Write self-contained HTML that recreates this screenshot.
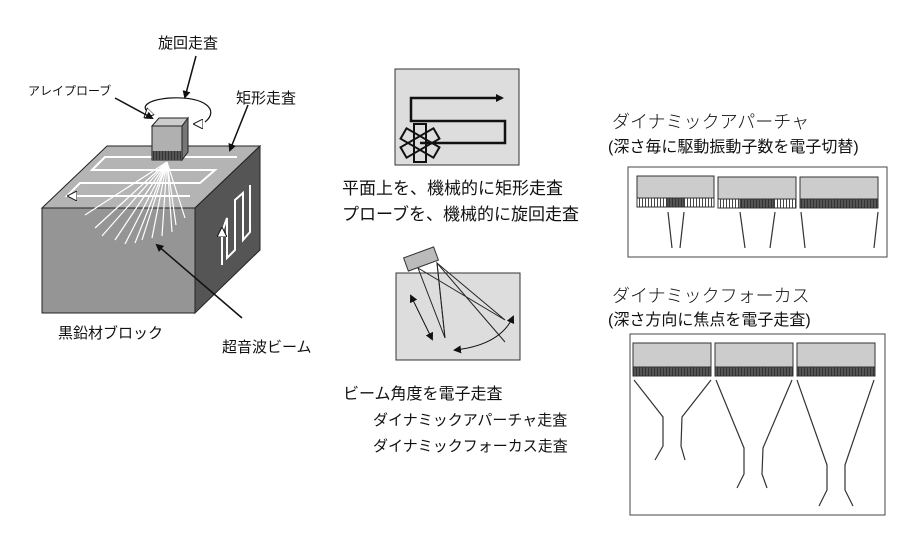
<!DOCTYPE html>
<html><head><meta charset="utf-8"><style>
html,body{margin:0;padding:0;background:#fff;}
svg{display:block;}
text{font-family:"Liberation Sans","Noto Sans CJK JP",sans-serif;fill:#111;}
</style></head><body>
<svg width="912" height="540" viewBox="0 0 912 540" xmlns="http://www.w3.org/2000/svg">
<defs>
<marker id="ah" markerWidth="8" markerHeight="8" refX="6" refY="4" orient="auto" markerUnits="userSpaceOnUse"><path d="M0,0 L8,4 L0,8 Z" fill="#111"/></marker>
<marker id="ahw" markerWidth="10" markerHeight="10" refX="7" refY="5" orient="auto" markerUnits="userSpaceOnUse"><path d="M0,0 L10,5 L0,10 Z" fill="#fff" stroke="#111" stroke-width="1"/></marker>
<marker id="ahs" markerWidth="8" markerHeight="8" refX="6" refY="4" orient="auto-start-reverse" markerUnits="userSpaceOnUse"><path d="M0,0 L8,4 L0,8 Z" fill="#111"/></marker>
<pattern id="dk" width="3" height="3" patternUnits="userSpaceOnUse"><rect width="3" height="3" fill="#555"/><rect width="1" height="3" fill="#333"/></pattern>
<pattern id="wh" width="3" height="3" patternUnits="userSpaceOnUse"><rect width="3" height="3" fill="#fff"/><rect width="1" height="3" fill="#444"/></pattern>
</defs>

<polygon points="42,208 107,146 260,146 195,208" fill="#b4b4b4" stroke="#222"/>
<polygon points="42,208 195,208 195,313 42,313" fill="#959595" stroke="#222"/>
<polygon points="195,208 260,146 260,250 195,313" fill="#555" stroke="#222"/>
<polyline points="237,157 105,157 92,170 215,170 200,183 80,183 67,196 190,196" fill="none" stroke="#fff" stroke-width="2"/>
<path d="M82,196 L70,196" stroke="#fff" stroke-width="2" marker-end="url(#ahw)"/>
<polyline points="222,265 222,232 227,218 227,258 235,250 235,200 243,193 243,240 250,232 250,185" fill="none" stroke="#fff" stroke-width="2"/>
<path d="M222,245 L222,230" stroke="#fff" stroke-width="2" marker-end="url(#ahw)"/>
<g stroke="#fff" stroke-width="1.2">
<line x1="167" y1="162" x2="85" y2="215"/><line x1="167" y1="162" x2="95" y2="228"/>
<line x1="167" y1="162" x2="102" y2="236"/><line x1="167" y1="162" x2="115" y2="240"/>
<line x1="167" y1="162" x2="125" y2="244"/><line x1="167" y1="162" x2="135" y2="243"/>
<line x1="167" y1="162" x2="142" y2="240"/><line x1="167" y1="162" x2="152" y2="238"/>
<line x1="167" y1="162" x2="162" y2="236"/><line x1="167" y1="162" x2="172" y2="232"/>
<line x1="167" y1="162" x2="176" y2="225"/><line x1="167" y1="162" x2="185" y2="218"/>
</g>
<polygon points="152,126 159,118 188,118 182,126" fill="#ccc" stroke="#222"/>
<polygon points="182,126 188,118 188,152 182,160" fill="#777" stroke="#222"/>
<rect x="152" y="126" width="30" height="34" fill="#b0b0b0" stroke="#222"/>
<rect x="152" y="151" width="30" height="9" fill="url(#dk)"/>
<path d="M150,113 C140,108 145,100 170,98 C205,96 220,110 205,122" fill="none" stroke="#111" stroke-width="1.2"/>
<path d="M200,124 L196,124" stroke="#111" marker-end="url(#ahw)"/>
<path d="M150,112 L146,116" stroke="#111" marker-end="url(#ahw)"/>
<line x1="196" y1="56" x2="185" y2="97" stroke="#111" stroke-width="1.5" marker-end="url(#ah)"/>
<line x1="115" y1="98" x2="152" y2="118" stroke="#111" stroke-width="1.5" marker-end="url(#ah)"/>
<line x1="248" y1="105" x2="230" y2="150" stroke="#111" stroke-width="1.5" marker-end="url(#ah)"/>
<line x1="242" y1="318" x2="157" y2="245" stroke="#111" stroke-width="1.5" marker-end="url(#ah)"/>
<text x="158" y="48" font-size="15">旋回走査</text>
<text x="28" y="95" font-size="12">アレイプローブ</text>
<text x="236" y="103" font-size="15">矩形走査</text>
<text x="58" y="338" font-size="15">黒鉛材ブロック</text>
<text x="222" y="352" font-size="15">超音波ビーム</text>

<rect x="395" y="69" width="124" height="96" fill="#ddd" stroke="#333"/>
<polyline points="420,143 505,143 505,121 411,121 411,98 502,98" fill="none" stroke="#111" stroke-width="2.5" marker-end="url(#ah)"/>
<g fill="none" stroke="#111" stroke-width="2">
<rect x="414" y="124" width="12" height="38"/>
<rect x="414" y="124" width="12" height="38" transform="rotate(60 420 143)"/>
<rect x="414" y="124" width="12" height="38" transform="rotate(-60 420 143)"/>
</g>
<text x="342" y="194" font-size="17">平面上を、機械的に矩形走査</text>
<text x="342" y="220" font-size="17">プローブを、機械的に旋回走査</text>

<rect x="396" y="273" width="124" height="87" fill="#ddd" stroke="#333"/>
<rect x="405" y="252" width="32" height="14" fill="#bbb" stroke="#333" transform="rotate(-20 421 259)"/>
<g stroke="#222" stroke-width="1" fill="none">
<polyline points="418,268 445,338 437,263 505,342"/>
<polyline points="418,268 505,320 437,263 445,338"/>
</g>
<line x1="411" y1="296" x2="432" y2="339" stroke="#111" marker-start="url(#ahs)" marker-end="url(#ahs)"/>
<path d="M455,350 Q500,345 513,317" fill="none" stroke="#111" marker-start="url(#ahs)" marker-end="url(#ahs)"/>
<text x="343" y="399" font-size="16">ビーム角度を電子走査</text>
<text x="373" y="425" font-size="15">ダイナミックアパーチャ走査</text>
<text x="373" y="451" font-size="15">ダイナミックフォーカス走査</text>

<text x="612" y="128" font-size="18" font-weight="300">ダイナミックアパーチャ</text>
<text x="608" y="152" font-size="16">(深さ毎に駆動振動子数を電子切替)</text>
<rect x="628" y="167" width="259" height="90" fill="#fff" stroke="#444"/>
<g stroke="#333">
<rect x="637" y="176" width="77" height="22" fill="#ccc"/><rect x="637" y="198" width="77" height="9" fill="url(#wh)"/><rect x="667" y="198" width="17" height="9" fill="url(#dk)"/>
<rect x="718" y="177" width="78" height="22" fill="#ccc"/><rect x="718" y="199" width="78" height="9" fill="url(#wh)"/><rect x="740" y="199" width="34" height="9" fill="url(#dk)"/>
<rect x="800" y="177" width="78" height="22" fill="#ccc"/><rect x="800" y="199" width="78" height="9" fill="url(#dk)"/>
</g>
<g stroke="#333" stroke-width="1.2">
<line x1="668" y1="212" x2="672" y2="248"/><line x1="684" y1="212" x2="680" y2="248"/>
<line x1="740" y1="212" x2="745" y2="248"/><line x1="775" y1="212" x2="770" y2="248"/>
<line x1="801" y1="212" x2="805" y2="248"/><line x1="878" y1="212" x2="874" y2="248"/>
</g>

<text x="612" y="302" font-size="18" font-weight="300">ダイナミックフォーカス</text>
<text x="608" y="325" font-size="16">(深さ方向に焦点を電子走査)</text>
<rect x="630" y="334" width="255" height="181" fill="#fff" stroke="#444"/>
<g stroke="#333">
<rect x="633" y="343" width="78" height="24" fill="#ccc"/><rect x="633" y="367" width="78" height="9" fill="url(#dk)"/>
<rect x="715" y="343" width="78" height="24" fill="#ccc"/><rect x="715" y="367" width="78" height="9" fill="url(#dk)"/>
<rect x="797" y="343" width="78" height="24" fill="#ccc"/><rect x="797" y="367" width="78" height="9" fill="url(#dk)"/>
</g>
<g stroke="#333" stroke-width="1.2" fill="none">
<polyline points="634,380 663,417 663,446 655,460"/><polyline points="711,380 682,417 681,446 685,460"/>
<polyline points="716,380 744,448 744,474 737,488"/><polyline points="792,380 763,448 762,474 767,488"/>
<polyline points="797,380 827,465 827,490 819,506"/><polyline points="874,380 845,465 845,490 853,506"/>
</g>
</svg>
</body></html>
